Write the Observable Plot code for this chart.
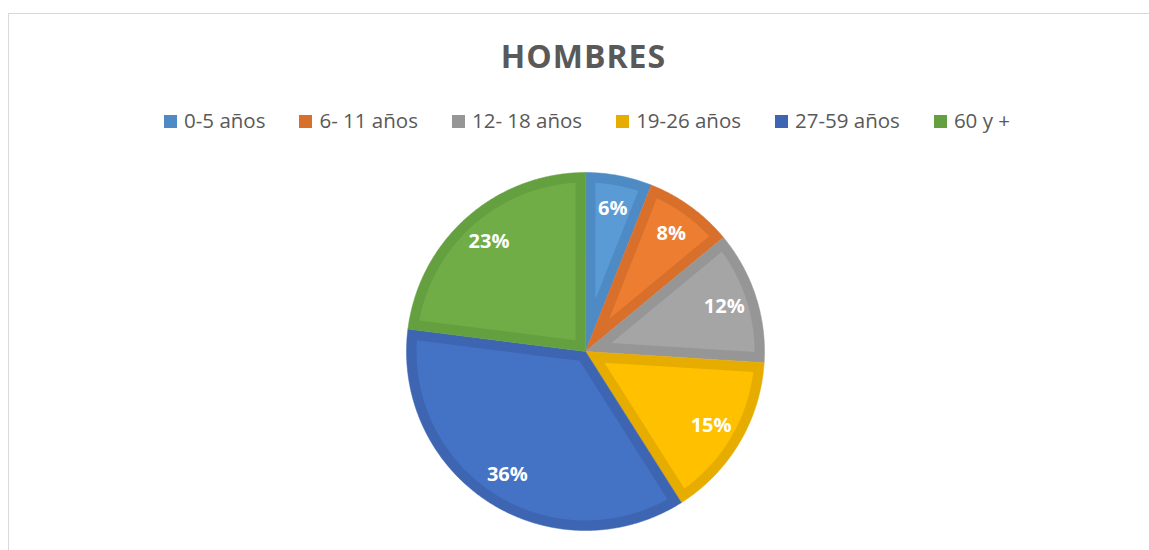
<!DOCTYPE html>
<html>
<head>
<meta charset="utf-8">
<script src="https://cdn.jsdelivr.net/npm/d3@7"></script>
<script src="https://cdn.jsdelivr.net/npm/@observablehq/plot@0.6"></script>
<style>
  html, body { margin: 0; padding: 0; background: #fff; overflow: hidden; width: 1149px; height: 550px; }
  body { position: relative; font-family: "Open Sans", sans-serif; }
  #frame { position: absolute; left: 8px; top: 13px; width: 1170px; height: 600px; border: 1px solid #d9d9d9; box-sizing: border-box; }
  #title { position: absolute; left: 0; width: 1167px; top: 39.6px; text-align: center; font-size: 32px; line-height: 32px; font-weight: bold; color: #595959; letter-spacing: 1px; white-space: nowrap; }
  #legend { position: absolute; left: 0; width: 1174px; top: 110px; text-align: center; font-size: 20.5px; line-height: 20px; color: #595959; white-space: nowrap; }
  .item { display: inline-block; margin: 0 17px; }
  .sw { display: inline-block; width: 13px; height: 13px; margin-right: 7px; }
  #chart { position: absolute; left: 0; top: 150px; }
</style>
</head>
<body>
<div id="frame"></div>
<div id="title">HOMBRES</div>
<div id="legend"></div>
<div id="chart"></div>
<script>
const categories = ["0-5 años", "6- 11 años", "12- 18 años", "19-26 años", "27-59 años", "60 y +"];
const values = [6, 8, 12, 15, 36, 23];
const pctLabels = ["6%", "8%", "12%", "15%", "36%", "23%"];
const fillColors = ["#5B9BD5", "#ED7D31", "#A5A5A5", "#FFC000", "#4472C4", "#70AD47"];
const borderColors = ["#4E8AC4", "#D8702C", "#969696", "#E6AD00", "#3D65B1", "#64A03F"];

// legend
const legend = document.getElementById("legend");
categories.forEach((c, i) => {
  const it = document.createElement("span");
  it.className = "item";
  const sw = document.createElement("span");
  sw.className = "sw";
  sw.style.background = borderColors[i];
  it.appendChild(sw);
  it.appendChild(document.createTextNode(c));
  legend.appendChild(it);
});

// geometry
const W = 1149, H = 400, R = 179, CX = 585, CY = 201, INSET = 10;
const total = d3.sum(values);
let acc = 0;
const slices = values.map((v, i) => {
  const a0 = acc / total * 2 * Math.PI;
  acc += v;
  const a1 = acc / total * 2 * Math.PI;
  return {i, a0, a1, mid: (a0 + a1) / 2};
});

const outer = [];
const inner = [];
const d = INSET / R;
const rin = 1 - d;
for (const s of slices) {
  const n = Math.max(8, Math.ceil((s.a1 - s.a0) / (Math.PI / 360)));
  outer.push({slice: s.i, x: 0, y: 0});
  for (let k = 0; k <= n; k++) {
    const a = s.a0 + (s.a1 - s.a0) * k / n;
    outer.push({slice: s.i, x: Math.sin(a), y: Math.cos(a)});
  }
  const half = (s.a1 - s.a0) / 2;
  const ad = d / Math.sin(half);
  inner.push({slice: s.i, x: ad * Math.sin(s.mid), y: ad * Math.cos(s.mid)});
  const del = Math.asin(d / rin);
  const b0 = s.a0 + del, b1 = s.a1 - del;
  for (let k = 0; k <= n; k++) {
    const a = b0 + (b1 - b0) * k / n;
    inner.push({slice: s.i, x: rin * Math.sin(a), y: rin * Math.cos(a)});
  }
}

const LR = 0.815;
const chart = Plot.plot({
  width: W,
  height: H,
  margin: 0,
  x: {domain: [-CX / R, (W - CX) / R], axis: null},
  y: {domain: [-(H - CY) / R, CY / R], axis: null},
  color: {type: "identity"},
  style: {fontFamily: "Open Sans", background: "transparent", overflow: "visible"},
  marks: [
    Plot.line(outer, {x: "x", y: "y", z: "slice", fill: d => borderColors[d.slice], stroke: d => borderColors[d.slice], strokeWidth: 0.5, curve: "linear-closed"}),
    Plot.line(inner, {x: "x", y: "y", z: "slice", fill: d => fillColors[d.slice], stroke: "none", curve: "linear-closed"}),
    Plot.text(slices, {x: s => LR * Math.sin(s.mid), y: s => LR * Math.cos(s.mid), text: s => pctLabels[s.i], fill: "white", fontSize: 20, fontWeight: "bold"})
  ]
});
document.getElementById("chart").appendChild(chart);
</script>
</body>
</html>
